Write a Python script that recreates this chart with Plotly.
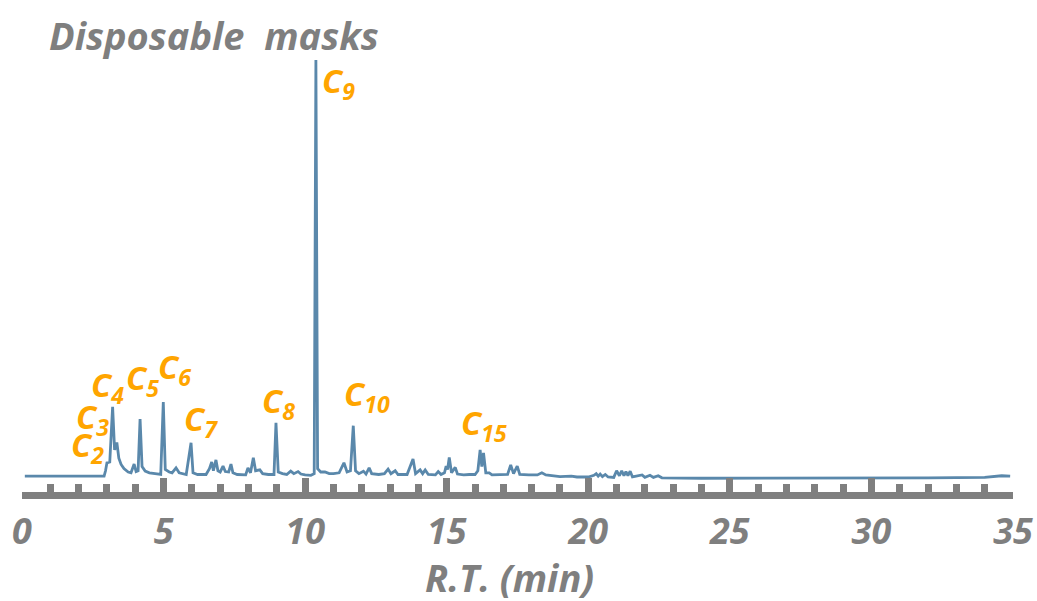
import plotly.graph_objects as go

# Chromatogram trace: retention time (min) and detector response (relative units)
rt_min = [
    0.1, 1.0, 2.0, 2.9, 2.95, 3.0, 3.1, 3.2, 3.27, 3.35, 3.42, 3.5, 3.6, 3.75, 3.85,
    3.96, 4.03, 4.1, 4.17, 4.24, 4.35, 4.5, 4.7, 4.9, 4.99, 5.06, 5.2, 5.3, 5.44,
    5.55, 5.8, 5.97, 6.04, 6.2, 6.5, 6.62, 6.70, 6.76, 6.85, 6.92, 7.0, 7.1, 7.18,
    7.3, 7.38, 7.45, 7.6, 7.9, 7.98, 8.07, 8.17, 8.25, 8.4, 8.5, 8.7, 8.9, 8.97,
    9.05, 9.2, 9.35, 9.49, 9.6, 9.75, 9.85, 10.0, 10.2, 10.32, 10.38, 10.44, 10.55,
    10.7, 10.85, 11.0, 11.2, 11.37, 11.48, 11.6, 11.70, 11.78, 11.9, 12.06, 12.15,
    12.26, 12.35, 12.6, 12.8, 12.93, 13.03, 13.18, 13.28, 13.6, 13.81, 13.9, 14.06,
    14.15, 14.24, 14.35, 14.6, 14.7, 14.8, 14.92, 14.98, 15.03, 15.09, 15.17, 15.3,
    15.38, 15.6, 15.8, 16.0, 16.1, 16.18, 16.24, 16.30, 16.38, 16.5, 16.6, 17.0,
    17.15, 17.26, 17.36, 17.49, 17.58, 17.9, 18.2, 18.36, 18.5, 19.0, 19.4, 19.6,
    20.0, 20.2, 20.28, 20.35, 20.42, 20.5, 20.6, 20.7, 20.9, 21.0, 21.1, 21.18,
    21.26, 21.33, 21.4, 21.48, 21.56, 21.9, 22.0, 22.18, 22.3, 22.47, 22.6, 24.0,
    26.0, 28.0, 30.0, 32.0, 34.0, 34.6, 34.9,
]
response = [
    0.2, 0.2, 0.2, 0.2, 1.5, 3.4, 3.6, 16.8, 6.5, 8.3, 4.5, 3.0, 2.0, 1.2, 1.0,
    3.1, 1.3, 1.5, 13.9, 2.5, 1.4, 1.0, 0.8, 0.6, 18.0, 1.8, 1.2, 1.0, 2.2,
    1.0, 0.6, 8.2, 1.0, 0.6, 0.6, 2.0, 3.6, 1.5, 4.1, 1.5, 1.2, 2.6, 1.3,
    1.2, 3.1, 1.0, 0.6, 0.5, 2.2, 1.0, 4.6, 1.5, 1.7, 0.8, 0.6, 0.6, 13.0,
    1.2, 0.8, 0.6, 1.4, 0.8, 1.3, 0.7, 0.5, 0.4, 0.8, 100.0, 2.0, 1.2,
    1.2, 0.8, 0.8, 1.0, 3.4, 1.2, 1.5, 12.3, 1.5, 0.8, 1.4, 0.7,
    2.2, 0.8, 0.6, 0.8, 1.9, 0.8, 1.5, 0.6, 0.6, 4.3, 0.8, 1.7,
    0.8, 1.7, 0.6, 0.5, 1.3, 0.6, 1.0, 2.6, 1.8, 4.7, 1.0, 2.3,
    0.7, 0.5, 0.6, 0.6, 1.5, 6.5, 2.5, 5.8, 1.0, 1.0, 0.5, 0.5,
    0.6, 2.9, 0.8, 2.6, 0.6, 0.5, 0.5, 1.0, 0.5, 0.1, 0.2, 0.0,
    0.0, 0.4, 0.8, 0.2, 0.7, 0.1, 0.6, 0.0, -0.1, 1.5, 0.3, 1.5,
    0.3, 1.3, 0.3, 1.4, 0.0, 0.5, -0.1, 0.4, -0.1, 0.3, -0.2, -0.3,
    -0.3, -0.3, -0.3, -0.2, -0.1, 0.3, 0.2,
]

# Peak labels (alkane carbon number) and where each label sits
label_numbers = ["2", "3", "4", "5", "6", "7", "8", "9", "10", "15"]
label_rt = [1.65, 1.82, 2.35, 3.59, 4.75, 5.64, 8.39, 10.51, 11.29, 15.42]
label_level = [7.2, 14.0, 21.7, 23.3, 26.1, 13.5, 17.9, 94.5, 19.6, 12.5]

x_ticks = [0, 5, 10, 15, 20, 25, 30, 35]

GREY = "#7f7f7f"
ORANGE = "#FFA500"
LINE = "#5a88ab"
FONT = "Open Sans"

fig = go.Figure()
fig.add_trace(go.Scatter(
    x=rt_min, y=response, mode="lines",
    line=dict(color=LINE, width=2.8), showlegend=False, hoverinfo="skip",
))

for num, xr, yl in zip(label_numbers, label_rt, label_level):
    fig.add_annotation(
        x=xr, y=yl, xref="x", yref="y", xanchor="left", yanchor="middle",
        text=f"C<sub>{num}</sub>", showarrow=False,
        font=dict(family=FONT, size=33, color=ORANGE, weight="bold", style="italic"),
    )

fig.add_annotation(
    x=0.1937, y=1.058, xref="paper", yref="paper", xanchor="center", yanchor="middle",
    text="Disposable\u00a0 masks", showarrow=False,
    font=dict(family=FONT, size=38, color=GREY, weight="bold", style="italic"),
)
fig.add_annotation(
    x=17.2, y=-0.197, xref="x", yref="paper", xanchor="center", yanchor="middle",
    text="R.T. (min)", showarrow=False,
    font=dict(family=FONT, size=38, color=GREY, weight="bold", style="italic"),
)

fig.update_layout(
    width=1037, height=601,
    margin=dict(l=22, r=24, t=60, b=109, autoexpand=False),
    paper_bgcolor="white", plot_bgcolor="white",
    xaxis=dict(
        range=[0, 35], tickvals=x_ticks, showgrid=False, zeroline=False,
        automargin=False,
        showline=True, linewidth=7, linecolor=GREY,
        ticks="inside", ticklen=14, tickwidth=7, tickcolor=GREY,
        minor=dict(dtick=1, ticks="inside", ticklen=8, tickwidth=7, tickcolor=GREY,
                   showgrid=False),
        tickfont=dict(family=FONT, size=36, color=GREY, weight="bold", style="italic"),
        ticklabelstandoff=2,
    ),
    yaxis=dict(range=[-3.6, 100], visible=False, showgrid=False, zeroline=False),
)

fig.write_html("out.html")
